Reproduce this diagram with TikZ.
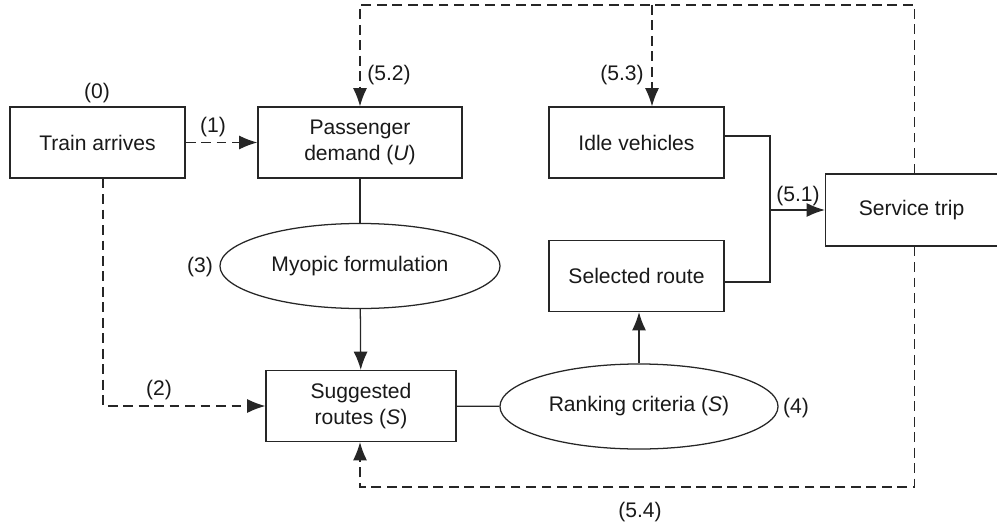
\documentclass[tikz,border=0pt]{standalone}
\usepackage{fontspec}
\setmainfont{Liberation Sans}
\usetikzlibrary{arrows.meta,shapes.geometric}
\tikzset{
    node style box/.style={draw,rectangle,minimum width=4.375cm,minimum height=1.775cm,align=center,inner sep=2pt},
    node style oval/.style={draw,ellipse,minimum width=7cm,minimum height=2.125cm,inner sep=1pt},
    arrow style dash/.style={dash pattern=on 7pt off 4pt},
    arrow style tip/.style={-{Latex[length=13pt,width=10pt]}},
}

\begin{document}
\begin{tikzpicture}[x=0.025cm,y=-0.025cm,line width=0.9pt,
    every node/.style={font=\fontsize{15}{19}\selectfont,text=black!90},draw=black!85]
\useasboundingbox (0,0) rectangle (997,531);

% boxes
\node[node style box] (train) at (97.5,142.5) {Train arrives};
\node[node style box,minimum width=5.1cm] (passenger) at (360,142.5) {Passenger\\demand (\textit{U})};
\node[node style box] (idle) at (636.5,142.5) {Idle vehicles};
\node[node style box,minimum width=4.3cm,minimum height=1.8cm] (service) at (911.5,210) {Service trip};
\node[node style box] (selected) at (636.5,276) {Selected route};
\node[node style box,minimum width=4.75cm] (suggested) at (361,406) {Suggested\\routes (\textit{S})};

% ovals
\node[node style oval] (myopic) at (360,266) {Myopic formulation};
\node[node style oval,minimum width=6.95cm] (ranking) at (639,406.5) {Ranking criteria (\textit{S})};

% helper points
\coordinate (top) at (360,5);
\coordinate (branch) at (652,5);
\coordinate (bottom) at (360,487);
\coordinate (join) at (770,210);

% solid links
\draw (passenger) -- (myopic);
\draw[arrow style tip] (myopic) -- (suggested);
\draw (suggested) -- (ranking);
\draw[arrow style tip] (ranking.north) -- (ranking.north |- selected.south);
\draw ([yshift=0.16cm]idle.east) -| (join);
\draw ([yshift=-0.15cm]selected.east) -| (join);
\draw[arrow style tip] (join) -- (service.west);

% dashed links
\draw[arrow style dash,arrow style tip] (train) -- (passenger);
\draw[arrow style dash,arrow style tip] ([xshift=0.14cm]train.south) |- (suggested.west);
\draw[arrow style dash,arrow style tip] ([xshift=0.07cm]service.north) |- (top) -- (passenger.north);
\draw[arrow style dash,arrow style tip] (branch) -- (branch |- idle.north);
\draw[arrow style dash,arrow style tip] ([xshift=0.07cm]service.south) |- (bottom) -- (suggested.south -| bottom);

% step labels
\node (l0) at (97,93) {(0)};
\node (l1) at (213,127) {(1)};
\node (l2) at (159,390) {(2)};
\node (l3) at (200,267) {(3)};
\node (l4) at (796,408) {(4)};
\node (l51) at (798,196) {(5.1)};
\node (l52) at (389,75) {(5.2)};
\node (l53) at (622,75) {(5.3)};
\node (l54) at (640,512) {(5.4)};

\end{tikzpicture}
\end{document}
